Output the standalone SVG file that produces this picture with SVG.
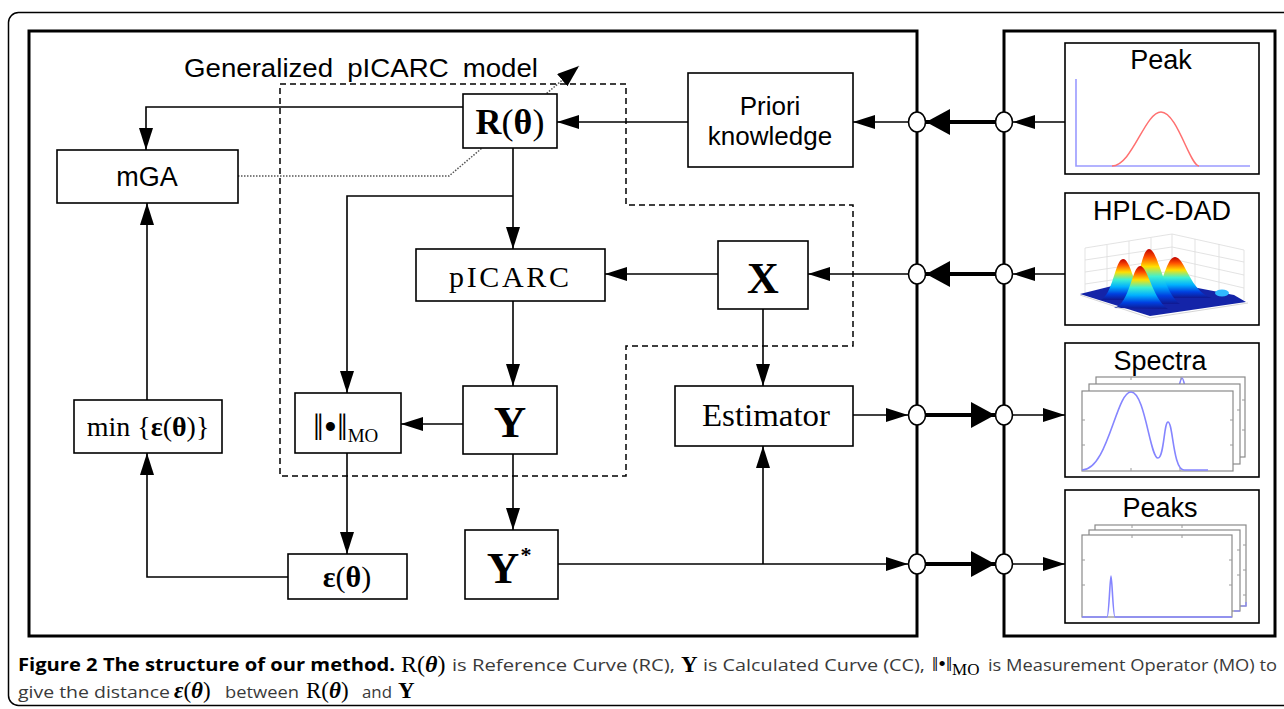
<svg xmlns="http://www.w3.org/2000/svg" width="1284" height="709" viewBox="0 0 1284 709">
<defs>
<style>
.box{fill:#fff;stroke:#000;stroke-width:1.6}
.frame{fill:none;stroke:#000;stroke-width:3}
.ln{fill:none;stroke:#000;stroke-width:1.6}
.thick{fill:none;stroke:#000;stroke-width:4}
.jn{fill:#fff;stroke:#000;stroke-width:1.6}
.sans{font-family:"Liberation Sans",Arial,sans-serif;fill:#000}
.serif{font-family:"Liberation Serif","Times New Roman",serif;fill:#000}
.cap{font-family:"Open Sans","Noto Sans",sans-serif;font-size:17px;fill:#3a3a3a}
.capb{font-family:"Open Sans","Noto Sans",sans-serif;font-size:17px;font-weight:bold;fill:#000}
.pf{fill:#fff;stroke:#8a8a8a;stroke-width:1.2}
.tick{stroke:#9a9a9a;stroke-width:1}
.blue{fill:none;stroke:#8585ff;stroke-width:1.6}
</style>
<marker id="a" markerUnits="userSpaceOnUse" markerWidth="22" markerHeight="14" refX="22" refY="7" orient="auto"><path d="M0,0 L22,7 L0,14 z" fill="#000"/></marker>
<marker id="ak" markerUnits="userSpaceOnUse" markerWidth="24" markerHeight="26" refX="24" refY="13" orient="auto"><path d="M0,0 L24,13 L0,26 z" fill="#000"/></marker>
<marker id="ad" markerUnits="userSpaceOnUse" markerWidth="22" markerHeight="16" refX="22" refY="8" orient="auto"><path d="M0,0 L22,8 L0,16 z" fill="#000"/></marker>
<linearGradient id="hg" x1="0" y1="0" x2="0" y2="1">
<stop offset="0" stop-color="#c00000"/>
<stop offset="0.15" stop-color="#ff5000"/>
<stop offset="0.32" stop-color="#ffe000"/>
<stop offset="0.5" stop-color="#40f0d0"/>
<stop offset="0.68" stop-color="#00b0ff"/>
<stop offset="0.85" stop-color="#0040e0"/>
<stop offset="1" stop-color="#101890"/>
</linearGradient>
</defs>
<rect width="1284" height="709" fill="#fff"/>
<rect x="8.5" y="12.5" width="1290" height="693" rx="10" fill="none" stroke="#000" stroke-width="1.5"/>

<g id="frames">
<rect class="frame" x="29" y="31" width="888" height="605"/>
<rect class="frame" x="1004" y="31" width="271" height="605"/>
</g>

<g id="model-region">
<path d="M280,84 H626 V205 H853 V346 H626 V476 H280 Z" fill="none" stroke="#000" stroke-width="1.5" stroke-dasharray="6,4"/>
<text class="sans" x="184" y="77" font-size="26" word-spacing="6" textLength="354" lengthAdjust="spacingAndGlyphs">Generalized pICARC model</text>
</g>

<g id="connectors">
<path class="ln" d="M463,107 H146 V150" marker-end="url(#a)"/>
<path class="ln" d="M688,122 H557" marker-end="url(#a)"/>
<path d="M238,176 H449 L579,66" fill="none" stroke="#555" stroke-width="1.5" stroke-dasharray="1.5,1.5" marker-end="url(#ad)"/>
<path class="ln" d="M513,148 V249" marker-end="url(#a)"/>
<path class="ln" d="M513,196 H347 V393" marker-end="url(#a)"/>
<path class="ln" d="M718,274 H605" marker-end="url(#a)"/>
<path class="ln" d="M513,301 V386" marker-end="url(#a)"/>
<path class="ln" d="M463,424 H401" marker-end="url(#a)"/>
<path class="ln" d="M347,453 V554" marker-end="url(#a)"/>
<path class="ln" d="M288,577 H147 V453" marker-end="url(#a)"/>
<path class="ln" d="M147,400 V203" marker-end="url(#a)"/>
<path class="ln" d="M513,454 V530" marker-end="url(#a)"/>
<path class="ln" d="M558,564 H908" marker-end="url(#a)"/>
<path class="ln" d="M763,564 V446" marker-end="url(#a)"/>
<path class="ln" d="M763,309 V386" marker-end="url(#a)"/>
<path class="ln" d="M853,415 H908" marker-end="url(#a)"/>
<path class="ln" d="M1065,122 H1013" marker-end="url(#a)"/>
<path class="thick" d="M995,122 H926" marker-end="url(#ak)"/>
<path class="ln" d="M908,122 H853" marker-end="url(#a)"/>
<path class="ln" d="M1065,274 H1013" marker-end="url(#a)"/>
<path class="thick" d="M995,274 H926" marker-end="url(#ak)"/>
<path class="ln" d="M908,274 H808" marker-end="url(#a)"/>
<path class="thick" d="M926,415 H995" marker-end="url(#ak)"/>
<path class="ln" d="M1013,415 H1065" marker-end="url(#a)"/>
<path class="thick" d="M926,564 H995" marker-end="url(#ak)"/>
<path class="ln" d="M1013,564 H1065" marker-end="url(#a)"/>
</g>

<g id="junctions">
<ellipse class="jn" cx="917" cy="122" rx="8.5" ry="10"/>
<ellipse class="jn" cx="1004" cy="122" rx="8.5" ry="10"/>
<ellipse class="jn" cx="917" cy="274" rx="8.5" ry="10"/>
<ellipse class="jn" cx="1004" cy="274" rx="8.5" ry="10"/>
<ellipse class="jn" cx="917" cy="415" rx="8.5" ry="10"/>
<ellipse class="jn" cx="1004" cy="415" rx="8.5" ry="10"/>
<ellipse class="jn" cx="917" cy="564" rx="8.5" ry="10"/>
<ellipse class="jn" cx="1004" cy="564" rx="8.5" ry="10"/>
</g>

<g id="R">
<rect class="box" x="463" y="94" width="94" height="54"/>
<text class="serif" x="510" y="134" font-size="36" text-anchor="middle"><tspan font-weight="bold">R</tspan>(<tspan font-weight="bold">θ</tspan>)</text>
</g>
<g id="mGA">
<rect class="box" x="57" y="150" width="181" height="53"/>
<text class="sans" x="147" y="186" font-size="27" text-anchor="middle">mGA</text>
</g>
<g id="priori">
<rect class="box" x="688" y="73" width="165" height="94"/>
<text class="sans" x="770" y="115" font-size="26" text-anchor="middle">Priori</text>
<text class="sans" x="770" y="145" font-size="26" text-anchor="middle">knowledge</text>
</g>
<g id="pICARC">
<rect class="box" x="416" y="249" width="189" height="52"/>
<text class="serif" x="449" y="287" font-size="30" textLength="120" lengthAdjust="spacing">pICARC</text>
</g>
<g id="X">
<rect class="box" x="718" y="241" width="90" height="68"/>
<text class="serif" x="763" y="293" font-size="44" font-weight="bold" text-anchor="middle">X</text>
</g>
<g id="Y">
<rect class="box" x="463" y="386" width="94" height="68"/>
<text class="serif" x="510" y="437" font-size="45" font-weight="bold" text-anchor="middle">Y</text>
</g>
<g id="MO">
<rect class="box" x="295" y="393" width="106" height="60"/>
<text class="serif" x="313" y="440" font-size="38">‖•‖<tspan font-size="19" dy="2">MO</tspan></text>
</g>
<g id="min">
<rect class="box" x="74" y="400" width="148" height="53"/>
<text class="serif" x="148" y="436" font-size="28" text-anchor="middle">min {<tspan font-weight="bold">ε</tspan>(<tspan font-weight="bold">θ</tspan>)}</text>
</g>
<g id="eps">
<rect class="box" x="288" y="554" width="119" height="45"/>
<text class="serif" x="347" y="587" font-size="30" text-anchor="middle"><tspan font-weight="bold">ε</tspan>(<tspan font-weight="bold">θ</tspan>)</text>
</g>
<g id="Ystar">
<rect class="box" x="465" y="530" width="93" height="69"/>
<text class="serif" x="503" y="583" font-size="45" font-weight="bold" text-anchor="middle">Y</text>
<text class="serif" x="526" y="562" font-size="22" font-weight="bold" text-anchor="middle">*</text>
</g>
<g id="estimator">
<rect class="box" x="675" y="386" width="178" height="60"/>
<text class="serif" x="702" y="426" font-size="31" textLength="128" lengthAdjust="spacingAndGlyphs">Estimator</text>
</g>

<g id="peak">
<rect class="box" x="1065" y="43" width="194" height="131"/>
<text class="sans" x="1161" y="69" font-size="27" text-anchor="middle">Peak</text>
<path d="M1076,79 V166 H1250" fill="none" stroke="#9a9aff" stroke-width="1.6"/>
<path d="M1112,166 C1132,166 1145,112 1161,112 C1177,112 1190,166 1199,166" fill="none" stroke="#ff7070" stroke-width="1.5"/>
</g>

<g id="hplc">
<rect class="box" x="1065" y="193" width="194" height="132"/>
<text class="sans" x="1162" y="220" font-size="27" text-anchor="middle">HPLC-DAD</text>
<g stroke="#dcdcdc" stroke-width="0.8" fill="none">
<path d="M1085,248 V293 M1085,248 L1172,234 L1244,250 V300 M1172,234 V283"/>
<path d="M1085,260 L1172,247 L1244,262 M1085,272 L1172,259 L1244,275 M1085,284 L1172,271 L1244,288"/>
<path d="M1107,245 V290 M1129,241 V287 M1151,238 V284 M1195,239 V288 M1219,244 V294"/>
</g>
<polygon points="1080,294 1150,316 1246,302 1234,295 1172,283 1112,286" fill="#1424a8"/>
<path d="M1148,298 C1162,296 1165,257 1175,257 C1185,257 1190,292 1212,298 Z" fill="url(#hg)"/>
<path d="M1124,304 C1138,300 1140,249 1149,249 C1158,249 1163,292 1180,304 Z" fill="url(#hg)"/>
<path d="M1100,300 C1113,296 1115,259 1123,259 C1131,259 1134,290 1146,300 Z" fill="url(#hg)"/>
<path d="M1114,308 C1130,304 1132,266 1140,266 C1148,266 1152,298 1168,309 Z" fill="url(#hg)"/>
<ellipse cx="1222" cy="293" rx="7" ry="3.5" fill="#30b8ff"/>
<path d="M1080,295 L1150,318 L1248,303" stroke="#ccc" stroke-width="0.8" fill="none"/>
</g>

<g id="spectra">
<rect class="box" x="1065" y="343" width="194" height="134"/>
<text class="sans" x="1160" y="370" font-size="27" text-anchor="middle">Spectra</text>
<rect class="pf" x="1096" y="377" width="149" height="80"/>
<path class="blue" d="M1176,392 C1179,392 1180,378 1182,378 C1184,378 1185,392 1188,392"/>
<rect class="pf" x="1089" y="384" width="151" height="80"/>
<rect class="pf" x="1082" y="391" width="151" height="80"/>
<g class="tick">
<path d="M1131,471 v-3 M1180,471 v-3 M1082,420 h3 M1082,445 h3 M1131,377 v3 M1181,377 v3 M1233,420 h-3 M1233,445 h-3 M1240,410 h-3 M1245,400 h-3 M1245,430 h-3"/>
</g>
<path class="blue" d="M1082,470 C1108,470 1116,392 1131,392 C1145,392 1150,458 1158,458 C1164,458 1164,422 1168,422 C1173,422 1173,470 1184,470 H1208"/>
</g>

<g id="peaks">
<rect class="box" x="1065" y="490" width="194" height="133"/>
<text class="sans" x="1160" y="517" font-size="27" text-anchor="middle">Peaks</text>
<rect class="pf" x="1095" y="525" width="151" height="81"/>
<path d="M1241,606 H1246 V602" fill="none" stroke="#8585ff" stroke-width="1.2"/>
<rect class="pf" x="1089" y="530" width="151" height="81"/>
<path d="M1234,611 H1240" fill="none" stroke="#8585ff" stroke-width="1.2"/>
<rect class="pf" x="1082" y="535" width="150" height="82"/>
<g class="tick">
<path d="M1132,535 v3 M1182,535 v3 M1132,525 v3 M1182,525 v3 M1082,560 h3 M1082,585 h3 M1232,560 h-3 M1232,585 h-3 M1240,550 h-3 M1240,575 h-3 M1246,545 h-3 M1246,570 h-3 M1246,595 h-3"/>
</g>
<path class="blue" d="M1082,617 H1107 C1109,617 1110,576 1111,576 C1112,576 1113,617 1115,617 H1232"/>
</g>

<g id="caption">
<text class="capb" x="18" y="671" textLength="377" lengthAdjust="spacingAndGlyphs">Figure 2 The structure of our method.</text>
<text class="serif" x="401" y="672" font-size="24">R(<tspan font-weight="bold" font-style="italic">θ</tspan>)</text>
<text class="cap" x="452" y="671" textLength="223" lengthAdjust="spacingAndGlyphs">is Reference Curve (RC),</text>
<text class="serif" x="681" y="672" font-size="23" font-weight="bold">Y</text>
<text class="cap" x="703" y="671" textLength="222" lengthAdjust="spacingAndGlyphs">is Calculated Curve (CC),</text>
<text class="serif" x="932" y="671" font-size="22">‖•‖<tspan font-size="17" dy="4">MO</tspan></text>
<text class="cap" x="988" y="671" textLength="289" lengthAdjust="spacingAndGlyphs">is Measurement Operator (MO) to</text>
<text class="cap" x="18" y="698" textLength="152" lengthAdjust="spacingAndGlyphs">give the distance</text>
<text class="serif" x="174" y="698" font-size="23"><tspan font-weight="bold" font-style="italic">ε</tspan>(<tspan font-weight="bold" font-style="italic">θ</tspan>)</text>
<text class="cap" x="225" y="698" textLength="74" lengthAdjust="spacingAndGlyphs">between</text>
<text class="serif" x="306" y="698" font-size="23">R(<tspan font-weight="bold" font-style="italic">θ</tspan>)</text>
<text class="cap" x="362" y="698" textLength="30" lengthAdjust="spacingAndGlyphs">and</text>
<text class="serif" x="398" y="698" font-size="23" font-weight="bold">Y</text>
</g>
</svg>
